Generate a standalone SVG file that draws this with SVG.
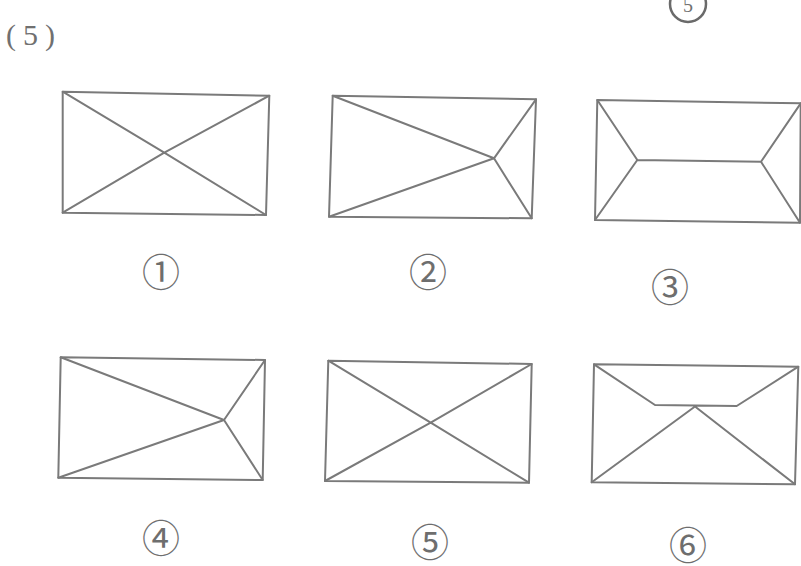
<svg xmlns="http://www.w3.org/2000/svg" width="801" height="566" viewBox="0 0 801 566">
<style>
.ln{fill:none;stroke:#7a7a7a;stroke-width:2;stroke-linejoin:round;stroke-linecap:round}
.lb{font-family:"Noto Sans CJK JP","DejaVu Sans",sans-serif;font-size:38px;fill:#6e6e6e;text-anchor:middle;dominant-baseline:central}
.tt{font-family:"Liberation Serif",serif;font-size:30px;fill:#707070}
</style>
<rect width="801" height="566" fill="#fff"/>
<text class="tt" x="6" y="45" letter-spacing="7">(5)</text>
<g id="topmark">
<circle cx="688" cy="4" r="18" fill="none" stroke="#6a6a6a" stroke-width="2.5"/>
<text x="688" y="12" font-family="Liberation Serif,serif" font-size="20" fill="#707070" text-anchor="middle">5</text>
</g>
<g id="n1">
<polygon class="ln" points="62.7,91.7 269.3,95.7 266,215 62.7,212.7"/>
<path class="ln" d="M62.7,91.7 L164.3,152.7 L266,215 M269.3,95.7 L164.3,152.7 L62.7,212.7"/>
<text class="lb" x="161" y="269">①</text>
</g>
<g id="n2">
<polygon class="ln" points="332.7,95.7 536,99.3 531.7,218.3 329,216.7"/>
<path class="ln" d="M332.7,95.7 L494,158.3 L536,99.3 M329,216.7 L494,158.3 L531.7,218.3"/>
<text class="lb" x="428" y="269">②</text>
</g>
<g id="n3">
<polygon class="ln" points="597.3,100 800.7,103.3 800,222.7 595,220"/>
<path class="ln" d="M597.3,100 L637.3,160 L595,220 M637.3,160 L761,161.7 M800.7,103.3 L761,161.7 L800,222.7"/>
<text class="lb" x="670" y="284">③</text>
</g>
<g id="n4">
<polygon class="ln" points="60.7,357.3 265,360 262.7,480 58.3,477.7"/>
<path class="ln" d="M60.7,357.3 L224,420 L265,360 M58.3,477.7 L224,420 L262.7,480"/>
<text class="lb" x="161" y="535">④</text>
</g>
<g id="n5">
<polygon class="ln" points="328.3,360.7 531.7,364 529,482.7 325,481"/>
<path class="ln" d="M328.3,360.7 L430.7,422.7 L529,482.7 M531.7,364 L430.7,422.7 L325,481"/>
<text class="lb" x="430" y="539">⑤</text>
</g>
<g id="n6">
<polygon class="ln" points="594,364.3 798.3,366.7 795,484.3 591.7,482.3"/>
<path class="ln" d="M594,364.3 L655,405 L736.7,406 L798.3,366.7 M591.7,482.3 L695,406.5 L795,484.3"/>
<text class="lb" x="688" y="542">⑥</text>
</g>
</svg>
